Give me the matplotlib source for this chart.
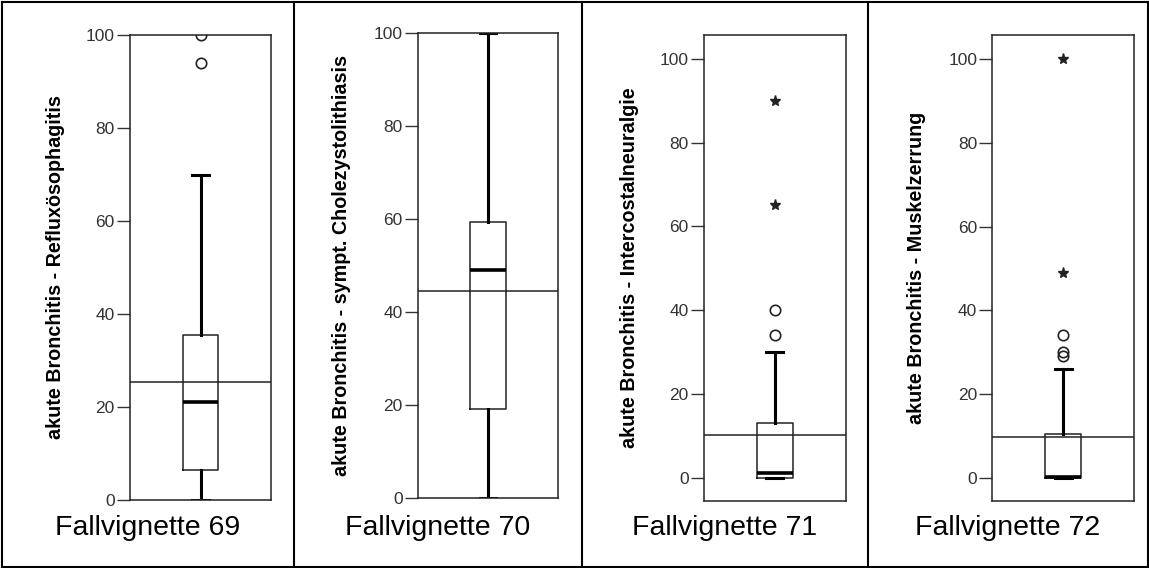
import matplotlib
matplotlib.use("Agg")
import matplotlib.pyplot as plt
from matplotlib.lines import Line2D

plt.rcParams['font.family'] = ['Liberation Sans', 'DejaVu Sans']

# vignette captions and y-axis labels
captions = ["Fallvignette 69", "Fallvignette 70", "Fallvignette 71", "Fallvignette 72"]
ylabels = [
    "akute Bronchitis - Refluxösophagitis",
    "akute Bronchitis - sympt. Cholezystolithiasis",
    "akute Bronchitis - Intercostalneuralgie",
    "akute Bronchitis - Muskelzerrung",
]

# box statistics per vignette
q1 = [6.5, 19.2, 0.0, 0.0]
median = [21.0, 49.0, 1.2, 0.3]
q3 = [35.5, 59.5, 13.0, 10.6]
whisker_lo = [0.0, 0.0, 0.0, 0.0]
whisker_hi = [70.0, 100.0, 30.0, 26.0]
outliers = [[94.0, 100.0], [], [34.0, 40.0], [29.0, 30.0, 34.0]]
extremes = [[], [], [65.0, 90.0], [49.0, 100.0]]
ref_line = [25.4, 44.5, 10.3, 9.7]
ylims = [(0, 100), (0, 100), (-5.5, 105.7), (-5.5, 105.7)]
yticks = [0, 20, 40, 60, 80, 100]

W, H = 1149, 568
fig = plt.figure(figsize=(W / 100, H / 100), dpi=100)

# axes boxes in pixels: left, right, top, bottom
boxes = [(130, 271, 35, 500), (417.7, 558.3, 33.3, 498.3),
         (704, 845.7, 35, 500.7), (992.3, 1134, 35, 501)]
cell_edges = [1.5, 294, 581.5, 867.5, 1147.5]
label_x = [-0.46, -0.475, -0.46, -0.467]

for i in range(4):
    l, r, t, b = boxes[i]
    ax = fig.add_axes([l / W, 1 - b / H, (r - l) / W, (b - t) / H])
    stats = [dict(med=median[i], q1=q1[i], q3=q3[i], whislo=whisker_lo[i],
                  whishi=whisker_hi[i], fliers=outliers[i])]
    ax.bxp(stats, positions=[1], widths=0.5, capwidths=0.24,
           boxprops=dict(color='#222222', linewidth=1.1),
           whiskerprops=dict(color='black', linewidth=2.2),
           capprops=dict(color='black', linewidth=2.2),
           medianprops=dict(color='black', linewidth=2.6),
           flierprops=dict(marker='o', markersize=7.5, markerfacecolor='none',
                           markeredgecolor='#222222', markeredgewidth=1.2))
    if extremes[i]:
        ax.plot([1] * len(extremes[i]), extremes[i], linestyle='none', marker='*',
                markersize=8, color='#222222')
    ax.axhline(ref_line[i], color='#222222', linewidth=1.1)

    ax.set_xlim(0, 2)
    ax.set_ylim(*ylims[i])
    ax.set_yticks(yticks)
    ax.set_xticks([])
    ax.tick_params(axis='y', length=9.4, width=1, pad=1.5, labelsize=12.5,
                   labelcolor='#333333', color='#333333')
    for s in ax.spines.values():
        s.set_color('#222222')
        s.set_linewidth(1.1)
    ax.set_ylabel(ylabels[i], fontsize=14.2, fontweight='bold')
    ax.yaxis.set_label_coords(label_x[i], 0.5)

    cx = (cell_edges[i] + cell_edges[i + 1]) / 2
    fig.text(cx / W, 1 - 535 / H, captions[i], ha='center', va='baseline',
             fontsize=20.5, color='black')

# table frame around the four cells
y_top, y_bot = 1 - 1.5 / H, 1 - 566.5 / H
for x in cell_edges:
    fig.add_artist(Line2D([x / W, x / W], [y_bot, y_top], color='black', linewidth=1.5))
for y in (y_top, y_bot):
    fig.add_artist(Line2D([cell_edges[0] / W, cell_edges[-1] / W], [y, y],
                          color='black', linewidth=1.5))

fig.savefig("out.png", dpi=100)
